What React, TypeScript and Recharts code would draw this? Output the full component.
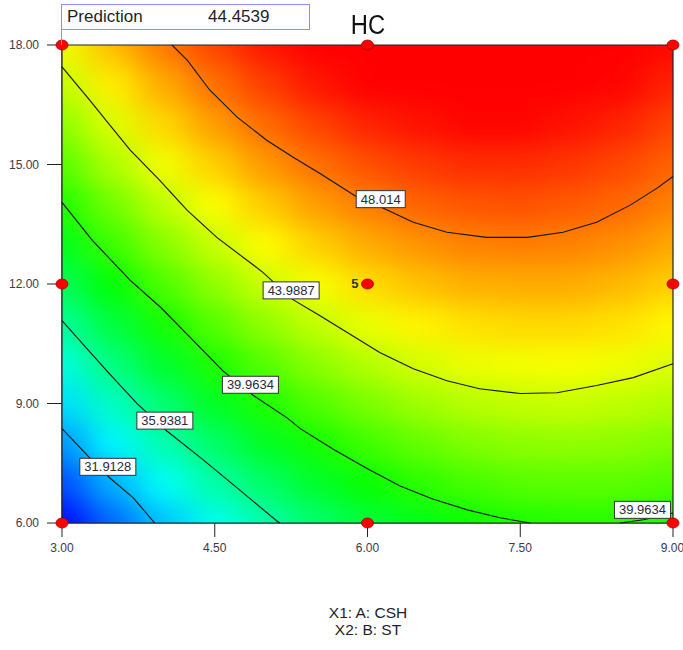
import { ComposedChart, Scatter, XAxis, YAxis } from "recharts";

const FONT = "'Liberation Sans', Arial, sans-serif";
const CHART_W = 683;
const CHART_H = 650;
const PX_X = 611 / 6; // px per CSH unit
const PX_Y = 478 / 12; // px per ST unit

// grid of the response surface, columns = CSH, rows = ST
const csh = [3, 3.5, 4, 4.5, 5, 5.5, 6, 6.5, 7, 7.5, 8, 8.5, 9];
const st = [6, 7, 8, 9, 10, 11, 12, 13, 14, 15, 16, 17, 18];
const hc = [
  [28.1, 30.3, 32.3, 34.0, 35.5, 36.9, 38.0, 38.8, 39.5, 39.9, 40.1, 40.1, 39.8],
  [29.7, 31.9, 33.8, 35.6, 37.0, 38.3, 39.4, 40.2, 40.8, 41.2, 41.3, 41.3, 41.0],
  [31.3, 33.5, 35.4, 37.0, 38.5, 39.7, 40.7, 41.5, 42.1, 42.4, 42.5, 42.4, 42.1],
  [32.9, 35.0, 36.8, 38.5, 39.9, 41.1, 42.0, 42.8, 43.3, 43.6, 43.7, 43.5, 43.2],
  [34.4, 36.5, 38.3, 39.9, 41.2, 42.4, 43.3, 44.0, 44.5, 44.7, 44.8, 44.6, 44.2],
  [35.9, 37.9, 39.7, 41.2, 42.5, 43.6, 44.5, 45.2, 45.6, 45.8, 45.8, 45.6, 45.1],
  [37.3, 39.3, 41.0, 42.5, 43.8, 44.8, 45.7, 46.3, 46.7, 46.8, 46.8, 46.5, 46.0],
  [38.7, 40.6, 42.3, 43.7, 45.0, 46.0, 46.8, 47.3, 47.7, 47.8, 47.7, 47.4, 46.9],
  [40.0, 41.8, 43.5, 44.9, 46.1, 47.1, 47.8, 48.4, 48.7, 48.8, 48.6, 48.3, 47.7],
  [41.2, 43.1, 44.7, 46.0, 47.2, 48.1, 48.8, 49.3, 49.6, 49.6, 49.4, 49.0, 48.4],
  [42.4, 44.2, 45.8, 47.1, 48.2, 49.1, 49.8, 50.2, 50.5, 50.5, 50.2, 49.8, 49.1],
  [43.6, 45.3, 46.8, 48.1, 49.2, 50.1, 50.7, 51.1, 51.3, 51.2, 51.0, 50.5, 49.8],
  [44.7, 46.4, 47.9, 49.1, 50.1, 51.0, 51.5, 51.9, 52.0, 52.0, 51.6, 51.1, 50.4],
];

// contour lines, [CSH, ST]
const c31 = [[3.0, 8.37], [3.27, 7.64], [3.47, 7.13], [3.7, 6.63], [3.91, 6.0]];
const c35 = [[3.0, 11.08], [3.44, 9.82], [3.74, 8.99], [4.03, 8.31], [4.36, 7.64], [4.72, 6.88], [5.11, 6.05], [5.14, 6.0]];
const c39 = [
  [3.0, 14.05], [3.3, 13.09], [3.67, 12.09], [3.97, 11.41], [4.29, 10.58], [4.58, 9.82], [4.88, 9.2],
  [5.21, 8.64], [5.34, 8.37], [5.66, 7.86], [6.0, 7.36], [6.32, 6.93], [6.64, 6.6], [6.98, 6.33],
  [7.3, 6.13], [7.6, 6.0],
];
const c39b = [[8.48, 6.0], [8.71, 6.08], [9.0, 6.25]];
const c43 = [
  [3.0, 17.45], [3.27, 16.62], [3.47, 15.99], [3.67, 15.36], [3.96, 14.6], [4.23, 13.85], [4.52, 13.17],
  [4.97, 12.3], [5.26, 11.62], [5.53, 11.21], [6.12, 10.28], [6.45, 9.87], [6.78, 9.57], [7.1, 9.37],
  [7.5, 9.25], [7.86, 9.27], [8.25, 9.45], [8.61, 9.65], [9.0, 10.0],
];
const c48 = [
  [4.08, 18.0], [4.23, 17.62], [4.45, 16.87], [4.72, 16.19], [5.01, 15.61], [5.27, 15.18], [5.53, 14.78],
  [5.9, 14.18], [6.14, 13.92], [6.45, 13.55], [6.78, 13.3], [7.17, 13.17], [7.57, 13.17], [7.92, 13.3],
  [8.25, 13.55], [8.58, 13.98], [8.84, 14.4], [9.0, 14.7],
];
const contourLines = [c31, c35, c39, c39b, c43, c48];

const labelText = ["48.014", "43.9887", "39.9634", "35.9381", "31.9128", "39.9634"];
const labelX = [6.13, 5.25, 4.85, 4.01, 3.45, 8.7];
const labelY = [14.13, 11.84, 9.47, 8.57, 7.41, 6.33];

// design points and replicate counts
const designX = [3, 3, 3, 6, 6, 6, 9, 9, 9];
const designY = [6, 12, 18, 6, 12, 18, 6, 12, 18];
const designN = [1, 1, 1, 1, 5, 1, 1, 1, 1];

const xTicks = [3, 4.5, 6, 7.5, 9];
const yTicks = [6, 9, 12, 15, 18];

const heatCells = hc.flatMap((row, j) => row.map((v, i) => ({ x: csh[i], y: st[j], v })));
const toPts = (arr: number[][]) => arr.map(([x, y]) => ({ x, y }));
const frame = toPts([[3, 6], [3, 18], [9, 18], [9, 6], [3, 6]]);
const labels = labelText.map((text, i) => ({ x: labelX[i], y: labelY[i], text }));
const design = designX.map((x, i) => ({ x, y: designY[i], n: designN[i] }));

const heatColor = (v: number) => {
  const t = Math.max(0, Math.min(1, (v - 28.0) / (50.6 - 28.0)));
  let r = 0, g = 0, b = 0;
  if (t < 0.25) { g = (255 * t) / 0.25; b = 255; }
  else if (t < 0.5) { g = 255; b = 255 * (1 - (t - 0.25) / 0.25); }
  else if (t < 0.75) { r = (255 * (t - 0.5)) / 0.25; g = 255; }
  else { r = 255; g = 255 * (1 - (t - 0.75) / 0.25); }
  return `rgb(${Math.round(r)},${Math.round(g)},${Math.round(b)})`;
};

const HeatCell = (props: any) => {
  const { cx, cy, payload } = props;
  const hw = PX_X * 0.25 + 0.5;
  const hh = PX_Y * 0.5 + 0.5;
  const l = payload.x === csh[0] ? hw + 40 : hw;
  const r = payload.x === csh[csh.length - 1] ? hw + 40 : hw;
  const t = payload.y === st[st.length - 1] ? hh + 40 : hh;
  const b = payload.y === st[0] ? hh + 40 : hh;
  return <rect x={cx - l} y={cy - t} width={l + r} height={t + b} fill={heatColor(payload.v)} />;
};

const Empty = () => <g />;

const ContourLabel = (props: any) => {
  const { cx, cy, payload } = props;
  const w = payload.text.length * 7 + 7;
  return (
    <g>
      <rect x={cx - w / 2} y={cy - 8.5} width={w} height={17} fill="#fff" stroke="#333" strokeWidth={1} />
      <text x={cx} y={cy + 4.5} textAnchor="middle" fontSize={13} fontFamily={FONT} fill="#2a2a3a">
        {payload.text}
      </text>
    </g>
  );
};

const DesignPoint = (props: any) => {
  const { cx, cy, payload } = props;
  return (
    <g>
      <ellipse cx={cx} cy={cy} rx={6} ry={5} fill="#ff0000" stroke="#a00000" strokeWidth={0.8} />
      {payload.n > 1 && (
        <text x={cx - 9} y={cy + 4} textAnchor="end" fontSize={13} fontWeight="bold" fontFamily={FONT} fill="#333">
          {payload.n}
        </text>
      )}
    </g>
  );
};

const tickStyle = { fontSize: 12, fill: "#3a3a4a", fontFamily: FONT };

export default function App() {
  return (
    <div style={{ position: "absolute", left: 0, top: 0, width: CHART_W, height: CHART_H, background: "#fff" }}>
      <style>{`.heat-layer { filter: url(#heatBlur); clip-path: url(#plotClip); }`}</style>
      <svg width={0} height={0} style={{ position: "absolute" }}>
        <defs>
          <filter id="heatBlur" x="-20%" y="-20%" width="140%" height="140%" colorInterpolationFilters="sRGB">
            <feGaussianBlur stdDeviation="17 13" />
          </filter>
          <clipPath id="plotClip" clipPathUnits="userSpaceOnUse">
            <rect x={62} y={45} width={611} height={478} />
          </clipPath>
        </defs>
      </svg>
      <ComposedChart width={CHART_W} height={CHART_H} margin={{ top: 45, right: 10, bottom: 87, left: 0 }}>
        <XAxis
          type="number"
          dataKey="x"
          domain={[3, 9]}
          ticks={xTicks}
          tickFormatter={(v: number) => v.toFixed(2)}
          height={40}
          tickSize={14}
          tickMargin={6}
          tick={tickStyle}
          tickLine={{ stroke: "#222" }}
          axisLine={{ stroke: "#222" }}
        />
        <YAxis
          type="number"
          dataKey="y"
          domain={[6, 18]}
          ticks={yTicks}
          tickFormatter={(v: number) => v.toFixed(2)}
          width={62}
          tickSize={15}
          tickMargin={8}
          tick={tickStyle}
          tickLine={{ stroke: "#222" }}
          axisLine={{ stroke: "#222" }}
        />
        <Scatter className="heat-layer" data={heatCells} shape={HeatCell} isAnimationActive={false} />
        <Scatter data={frame} line={{ stroke: "#222", strokeWidth: 1.2 }} shape={Empty} isAnimationActive={false} />
        {contourLines.map((c, i) => (
          <Scatter
            key={i}
            data={toPts(c)}
            line={{ stroke: "#151515", strokeWidth: 1.1 }}
            shape={Empty}
            isAnimationActive={false}
          />
        ))}
        <Scatter data={labels} shape={ContourLabel} isAnimationActive={false} />
        <Scatter data={design} shape={DesignPoint} isAnimationActive={false} />
      </ComposedChart>
      <div style={{ position: "absolute", left: 0, top: 0, width: CHART_W, height: CHART_H, pointerEvents: "none", fontFamily: FONT }}>
        <div style={{ position: "absolute", left: 61, top: 4, width: 249, height: 26, border: "1px solid #8c8cff", boxSizing: "border-box" }} />
        <div style={{ position: "absolute", left: 61, top: 29, width: 0, height: 16, borderLeft: "1px solid #8c8cff" }} />
        <div style={{ position: "absolute", left: 67, top: 7, fontSize: 17, color: "#1e1e28", lineHeight: "20px" }}>Prediction</div>
        <div style={{ position: "absolute", left: 208, top: 7, fontSize: 17, color: "#1e1e28", lineHeight: "20px" }}>44.4539</div>
        <div style={{ position: "absolute", left: 318, width: 100, top: 10, textAlign: "center", fontSize: 27, lineHeight: "30px", color: "#111", transform: "scaleX(0.88)" }}>HC</div>
        <div style={{ position: "absolute", left: 268, width: 200, top: 605, textAlign: "center", fontSize: 15.5, lineHeight: "16px", color: "#1e1e28" }}>
          X1: A: CSH
        </div>
        <div style={{ position: "absolute", left: 268, width: 200, top: 622, textAlign: "center", fontSize: 15.5, lineHeight: "16px", color: "#1e1e28" }}>
          X2: B: ST
        </div>
      </div>
    </div>
  );
}
